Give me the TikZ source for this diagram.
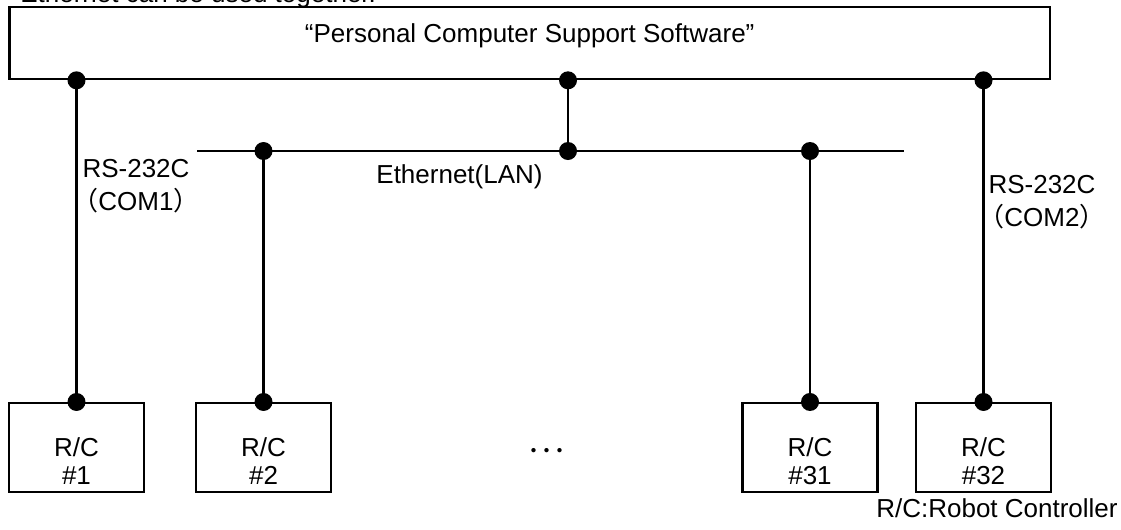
\documentclass[tikz,border=0pt]{standalone}
\usepackage{fontspec}
\setmainfont{Liberation Sans}
\newfontfamily\cjk{Noto Sans CJK JP}
\usetikzlibrary{positioning,calc}
\newcommand\bigtext{\fontsize{14.8pt}{18.8pt}\selectfont}
\newcommand\boxtext{\fontsize{14.8pt}{15.9pt}\selectfont}
\tikzset{
  wire/.style={line width=1.2pt},
  panel/.style={draw,line width=1.2pt,minimum width=20.81cm,minimum height=1.45cm,inner sep=0pt},
  unit/.style={draw,line width=1.2pt,minimum width=2.7cm,minimum height=1.78cm,inner sep=0pt},
  dot/.style={circle,fill,inner sep=0pt,minimum size=3.6mm},
  tag/.style={font=\bigtext,inner sep=0pt,align=center},
  unittag/.style={font=\boxtext,inner sep=0pt,align=center,anchor=north},
}

\begin{document}
\begin{tikzpicture}[x=0.02cm,y=-0.02cm]
  \useasboundingbox (0,0) rectangle (1121,529);
  \node[tag,anchor=base west] (note) at (20,2) {Ethernet can be used together.};
  % software on the PC
  \node[panel] (pcss) at (529.7,43) {};
  \node[tag,anchor=base] (title) at (529.7,42) {``Personal Computer Support Software''};
  % robot controllers
  \foreach \n/\x in {1/76.5,2/263.5,31/810,32/983.5} {
    \node[unit] (rc\n) at (\x,447.5) {};
    \node[unittag] (rc\n txt) at (\x,437) {R/C\\\#\n};
  }
  \node[font=\bigtext\cjk,inner sep=0pt] (more) at (547,454) {･･･};
  % LAN
  \coordinate (lanW) at (197,151);
  \coordinate (lanE) at (904,151);
  \coordinate (hub) at (pcss.south |- lanW);
  \draw[wire] (lanW) -- (lanE);
  \draw[wire] ($(hub)+(38.3,0)$) coordinate (hubtop) -- (hubtop |- pcss.south);
  \draw[wire] (rc1 |- pcss.south) -- (rc1.north);
  \draw[wire] (rc32 |- pcss.south) -- (rc32.north);
  \draw[wire] (rc2 |- lanW) -- (rc2.north);
  \draw[wire] (rc31 |- lanW) -- (rc31.north);
  \foreach \p in {rc1,rc32,hubtop} \node[dot] at (\p |- pcss.south) {};
  \foreach \p in {rc2,rc31,hubtop} \node[dot] at (\p |- lanW) {};
  \foreach \p in {rc1,rc2,rc31,rc32} \node[dot] at (\p.north) {};
  % labels
  \node[tag,anchor=north] (com1) at (136,159) {RS-232C\\{\cjk （}COM1{\cjk ）}};
  \node[tag,anchor=north] (com2) at (1042,175) {RS-232C\\{\cjk （}COM2{\cjk ）}};
  \node[tag,anchor=base] (lan) at (459.5,183) {Ethernet(LAN)};
  \node[tag,anchor=base east] (legend) at (1118,517) {R/C:Robot Controller};
\end{tikzpicture}
\end{document}
